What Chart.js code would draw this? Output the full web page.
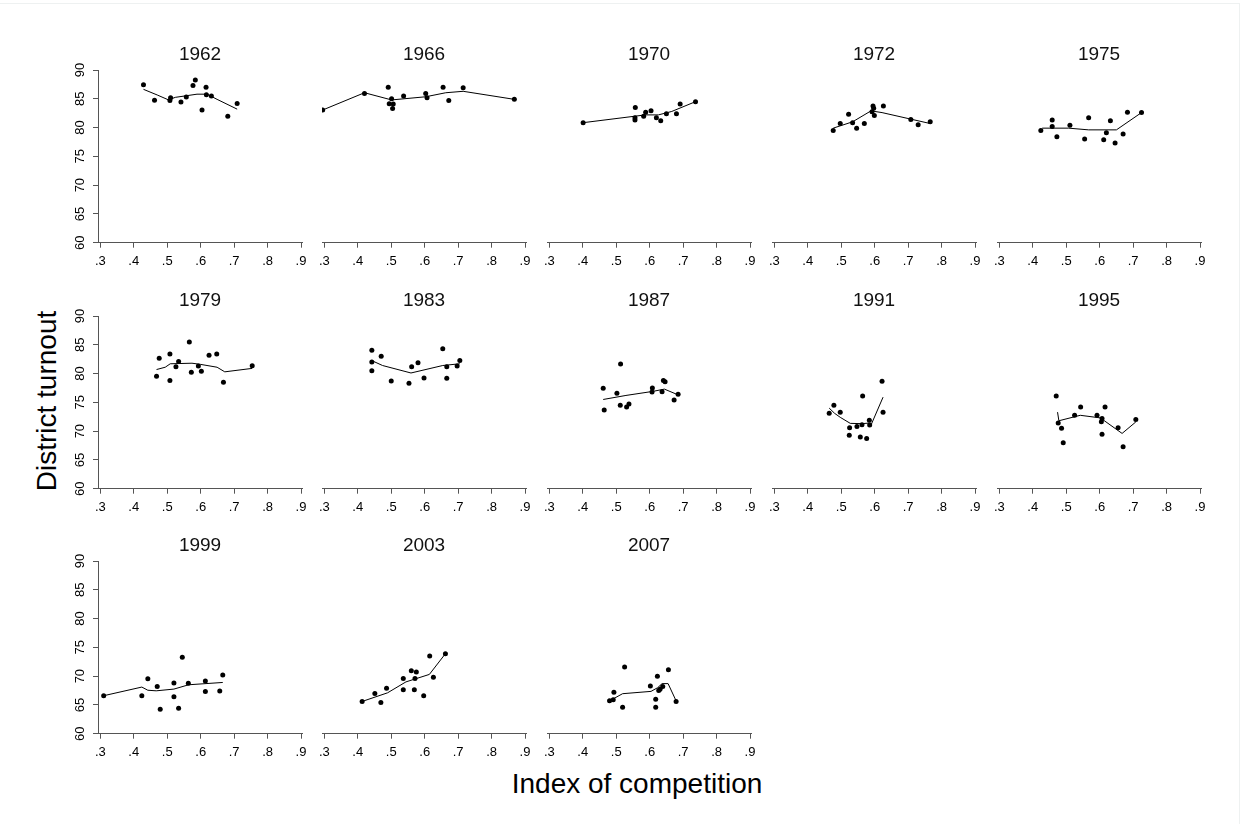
<!DOCTYPE html>
<html lang="en">
<head>
<meta charset="UTF-8" />
<title>District turnout by index of competition</title>
<script src="https://cdn.jsdelivr.net/npm/chart.js"></script>
<style>
  body { margin: 0; background: #fff; font-family: "Liberation Sans", Arial, sans-serif; }
  #page { position: relative; width: 1241px; height: 824px; overflow: hidden; background: #fff; }
  #frame { position: absolute; left: 0; top: 3px; width: 1239px; height: 830px; border-top: 1px solid #eef1f1; border-right: 1px solid #eef1f1; }
  canvas { position: absolute; }
  .axis-title { position: absolute; font-size: 28px; color: #000; white-space: nowrap; line-height: 1; }
  #ytitle { left: 47px; top: 401px; transform: translate(-50%, -50%) rotate(-90deg); }
  #xtitle { left: 637px; top: 784px; transform: translate(-50%, -50%); }
</style>
</head>
<body>
<div id="page">
  <div id="frame"></div>
  <div class="axis-title" id="ytitle">District turnout</div>
  <div class="axis-title" id="xtitle">Index of competition</div>
</div>
<script>
  // one panel per election year
  const years = ['1962', '1966', '1970', '1972', '1975', '1979', '1983', '1987', '1991', '1995', '1999', '2003', '2007'];

  // district points (index of competition, turnout)
  const pointX = [
    [.429, .462, .508, .510, .541, .557, .577, .584, .604, .616, .617, .632, .681, .709],
    [.295, .420, .491, .501, .494, .506, .504, .537, .603, .607, .655, .672, .715, .868],
    [.401, .557, .556, .556, .582, .588, .604, .620, .633, .650, .680, .691, .737],
    [.476, .497, .522, .534, .546, .569, .592, .595, .597, .599, .626, .708, .730, .766],
    [.424, .458, .458, .472, .511, .555, .567, .612, .620, .632, .646, .670, .683, .725],
    [.468, .476, .508, .508, .526, .534, .566, .572, .593, .602, .625, .648, .668, .754],
    [.442, .442, .442, .470, .500, .553, .561, .580, .598, .654, .666, .666, .697, .705],
    [.461, .464, .502, .513, .512, .531, .538, .608, .607, .637, .641, .646, .673, .685],
    [.464, .478, .497, .525, .524, .547, .562, .564, .557, .576, .584, .585, .622, .625],
    [.470, .476, .486, .491, .525, .543, .592, .607, .605, .607, .616, .655, .670, .708],
    [.310, .424, .442, .470, .479, .520, .520, .534, .545, .563, .614, .614, .657, .666],
    [.413, .451, .469, .486, .536, .536, .560, .569, .571, .575, .597, .615, .626, .662],
    [.480, .491, .493, .519, .525, .602, .618, .618, .623, .627, .631, .639, .656, .679]
  ];
  const pointY = [
    [87.45, 84.73, 84.7, 85.2, 84.44, 85.3, 87.3, 88.26, 83.05, 87.0, 85.7, 85.5, 81.95, 84.2],
    [83.05, 85.9, 87.0, 85.0, 84.15, 84.1, 83.3, 85.5, 85.9, 85.2, 87.0, 84.7, 86.9, 84.9],
    [80.85, 83.5, 81.7, 81.3, 81.95, 82.65, 82.9, 81.7, 81.2, 82.4, 82.4, 84.1, 84.5],
    [79.5, 80.7, 82.3, 80.85, 79.9, 80.7, 82.75, 83.75, 83.35, 82.1, 83.75, 81.4, 80.5, 81.0],
    [79.5, 81.3, 80.2, 78.4, 80.4, 78.0, 81.7, 77.9, 79.1, 81.2, 77.3, 78.9, 82.65, 82.6],
    [79.52, 82.65, 83.4, 78.8, 81.2, 82.1, 85.5, 80.25, 81.3, 80.4, 83.2, 83.4, 78.5, 81.35],
    [84.04, 82.0, 80.5, 83.0, 78.7, 78.3, 81.2, 81.9, 79.25, 84.3, 81.2, 79.2, 81.3, 82.25],
    [77.43, 73.67, 76.6, 81.66, 74.5, 74.2, 74.7, 77.5, 76.8, 76.86, 78.8, 78.6, 75.4, 76.4],
    [73.1, 74.5, 73.3, 70.6, 69.3, 70.8, 71.1, 76.1, 69.0, 68.7, 71.9, 71.05, 78.65, 73.3],
    [76.1, 71.4, 70.5, 68.0, 72.75, 74.2, 72.75, 72.2, 71.65, 69.45, 74.2, 70.6, 67.3, 72.0],
    [66.6, 66.6, 69.55, 68.2, 64.24, 68.8, 66.4, 64.4, 73.3, 68.75, 69.15, 67.35, 67.4, 70.2],
    [65.6, 67.0, 65.4, 67.9, 69.6, 67.65, 70.95, 67.65, 69.6, 70.7, 66.6, 73.5, 69.8, 73.9],
    [65.74, 65.9, 67.2, 64.6, 71.6, 68.3, 66.0, 64.6, 70.0, 67.5, 67.7, 68.2, 71.1, 65.6]
  ];

  // smoothed (lowess) line vertices
  const fitX = [
    [.429, .470, .504, .524, .554, .589, .619, .649, .709],
    [.295, .420, .501, .603, .663, .715, .868],
    [.401, .587, .626, .666, .737],
    [.476, .534, .589, .622, .766],
    [.428, .507, .567, .650, .725],
    [.468, .494, .509, .574, .599, .649, .672, .754],
    [.442, .474, .559, .654, .705],
    [.461, .529, .609, .644, .685],
    [.464, .480, .497, .527, .562, .584, .589, .625],
    [.474, .478, .542, .602, .667, .708],
    [.310, .424, .442, .467, .520, .564, .666],
    [.413, .489, .544, .614, .662],
    [.480, .519, .604, .624, .637, .655, .679]
  ];
  const fitY = [
    [86.64, 85.66, 84.8, 85.25, 85.5, 85.8, 85.8, 84.9, 83.2],
    [83.05, 86.05, 84.8, 85.35, 86.05, 86.3, 84.9],
    [80.85, 82.2, 82.2, 82.8, 84.5],
    [79.9, 81.0, 82.9, 82.6, 80.7],
    [79.9, 79.9, 79.6, 79.6, 82.6],
    [80.7, 81.1, 81.7, 81.8, 81.6, 81.1, 80.3, 80.9],
    [82.25, 81.4, 80.1, 81.4, 81.7],
    [75.5, 76.2, 76.9, 77.3, 76.3],
    [74.0, 73.1, 72.4, 71.35, 71.3, 71.4, 71.05, 75.9],
    [73.3, 71.8, 72.75, 72.3, 69.6, 71.6],
    [66.6, 68.1, 67.55, 67.45, 67.75, 68.5, 68.9],
    [65.6, 67.1, 69.0, 70.3, 73.9],
    [65.7, 66.95, 67.35, 68.0, 68.7, 68.7, 65.7]
  ];

  const xTicks = [0.3, 0.4, 0.5, 0.6, 0.7, 0.8, 0.9];
  const xTickLabels = ['.3', '.4', '.5', '.6', '.7', '.8', '.9'];
  const yTicks = [60, 65, 70, 75, 80, 85, 90];
  const yTickLabels = ['60', '65', '70', '75', '80', '85', '90'];

  // page geometry: pixel of x=.3 for each column, pixel of y=90 for each row
  const colLeft = [100, 324.8, 549.7, 774.5, 999.3];
  const rowTop = [70, 315.7, 560.7];
  const X_MIN = 0.293, X_MAX = 0.903;
  const PX_PER_UNIT = 334.5;
  const AREA_W = (X_MAX - X_MIN) * PX_PER_UNIT;
  const AREA_H = 172.7;
  const PAD = 45, CANVAS_W = 262, CANVAS_H = 262, X_AXIS_H = 35, Y_AXIS_W = 30;
  const AXIS_COLOR = '#555';
  const FONT = '"Liberation Sans", Arial, sans-serif';

  Chart.defaults.font.family = FONT;

  // year label above each panel, and vertical y tick labels (Stata style)
  const panelText = {
    id: 'panelText',
    afterDraw(chart, args, opts) {
      const { ctx, chartArea } = chart;
      ctx.save();
      ctx.font = '19px ' + FONT;
      ctx.fillStyle = '#111';
      ctx.textAlign = 'center';
      ctx.textBaseline = 'middle';
      ctx.fillText(opts.text, (chartArea.left + chartArea.right) / 2, chartArea.top - 15);

      if (opts.yLabels) {
        const y = chart.scales.y;
        ctx.font = '13px ' + FONT;
        ctx.fillStyle = '#000';
        yTicks.forEach((v, k) => {
          ctx.save();
          ctx.translate(chartArea.left - 17.5, y.getPixelForValue(v));
          ctx.rotate(-Math.PI / 2);
          ctx.fillText(yTickLabels[k], 0, 0);
          ctx.restore();
        });
      }
      ctx.restore();
    }
  };

  const page = document.getElementById('page');

  years.forEach((year, i) => {
    const row = Math.floor(i / 5), col = i % 5;
    const showY = col === 0;
    const canvas = document.createElement('canvas');
    canvas.width = CANVAS_W;
    canvas.height = CANVAS_H;
    const areaLeft = colLeft[col] - (0.3 - X_MIN) * PX_PER_UNIT;
    canvas.style.left = (areaLeft - PAD) + 'px';
    canvas.style.top = (rowTop[row] - PAD) + 'px';
    page.appendChild(canvas);

    const points = pointX[i].map((x, k) => ({ x: x, y: pointY[i][k] }));
    const fit = fitX[i].map((x, k) => ({ x: x, y: fitY[i][k] }));

    new Chart(canvas, {
      type: 'scatter',
      data: {
        datasets: [
          { data: fit, showLine: true, borderColor: '#000', borderWidth: 1, pointRadius: 0, tension: 0, fill: false },
          { data: points, backgroundColor: '#000', borderWidth: 0, pointRadius: 2.5 }
        ]
      },
      options: {
        responsive: false,
        animation: false,
        events: [],
        layout: {
          autoPadding: false,
          padding: {
            left: showY ? PAD - Y_AXIS_W : PAD,
            top: PAD,
            right: CANVAS_W - PAD - AREA_W,
            bottom: CANVAS_H - PAD - AREA_H - X_AXIS_H
          }
        },
        plugins: {
          legend: { display: false },
          tooltip: { enabled: false },
          panelText: { text: year, yLabels: showY }
        },
        scales: {
          x: {
            type: 'linear',
            min: X_MIN,
            max: X_MAX,
            afterBuildTicks: s => { s.ticks = xTicks.map(v => ({ value: v })); },
            afterFit: s => { s.height = X_AXIS_H; s.paddingLeft = 0; s.paddingRight = 0; },
            grid: { drawOnChartArea: false, drawTicks: true, tickLength: 5, color: AXIS_COLOR },
            border: { color: AXIS_COLOR, width: 1 },
            ticks: {
              callback: (v, k) => xTickLabels[k],
              autoSkip: false, maxRotation: 0, padding: 6,
              color: '#000', font: { size: 13 }
            }
          },
          y: {
            display: showY,
            min: 60,
            max: 90,
            afterBuildTicks: s => { s.ticks = yTicks.map(v => ({ value: v })); },
            afterFit: s => { s.width = showY ? Y_AXIS_W : 0; s.paddingTop = 0; s.paddingBottom = 0; },
            grid: { drawOnChartArea: false, drawTicks: true, tickLength: 5, color: AXIS_COLOR },
            border: { color: AXIS_COLOR, width: 1 },
            ticks: { display: false }
          }
        }
      },
      plugins: [panelText]
    });
  });
</script>
</body>
</html>
